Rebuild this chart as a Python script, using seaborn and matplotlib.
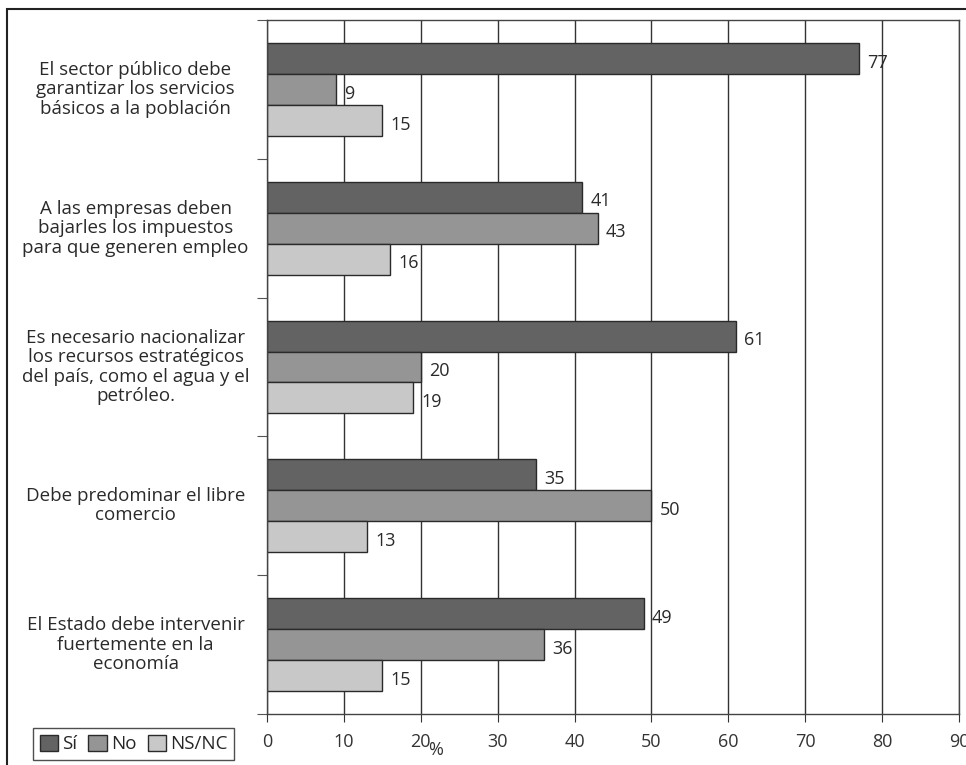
import matplotlib.pyplot as plt
import matplotlib.patches as mpatches
import seaborn as sns
import numpy as np
import pandas as pd

categorias = [
    "El sector público debe\ngarantizar los servicios\nbásicos a la población",
    "A las empresas deben\nbajarles los impuestos\npara que generen empleo",
    "Es necesario nacionalizar\nlos recursos estratégicos\ndel país, como el agua y el\npetróleo.",
    "Debe predominar el libre\ncomercio",
    "El Estado debe intervenir\nfuertemente en la\neconomía",
]
si = [77, 41, 61, 35, 49]
no = [9, 43, 20, 50, 36]
nsnc = [15, 16, 19, 13, 15]
series = ["Sí", "No", "NS/NC"]
colores = ["#636363", "#959595", "#c8c8c8"]

df = pd.DataFrame({"categoria": categorias, "Sí": si, "No": no, "NS/NC": nsnc})
df = df.melt(id_vars="categoria", var_name="serie", value_name="valor")

sns.set_style("white")
plt.rcParams["font.family"] = ["Open Sans", "DejaVu Sans"]

fig = plt.figure(figsize=(9.66, 7.65), dpi=100)
ax = fig.add_axes([267 / 966, 1 - 714 / 765, 692 / 966, 694 / 765])

sns.barplot(data=df, y="categoria", x="valor", hue="serie", order=categorias,
            hue_order=series, palette=colores, orient="h", width=0.67,
            edgecolor="#2a2a2a", linewidth=1, saturation=1, ax=ax, legend=False)

for cont in ax.containers:
    for ann in ax.bar_label(cont, padding=6, fontsize=13, color="#2a2a2a"):
        ann.xyann = (6, -3)

ax.set_xlim(0, 90)
ax.set_ylim(4.5, -0.5)
ax.set_xticks(np.arange(0, 91, 10))
ax.set_yticks(np.arange(-0.5, 5, 1))
ax.set_yticklabels([])
ax.set_xlabel("")
ax.set_ylabel("")
ax.xaxis.grid(True, color="#333333", linewidth=1)
ax.set_axisbelow(True)
ax.tick_params(axis="x", direction="out", length=6, color="#333333",
               labelsize=13, labelcolor="#333333", pad=8, bottom=True)
ax.tick_params(axis="y", direction="out", length=7, color="#555555", left=True)
for s in ax.spines.values():
    s.set_visible(True)
    s.set_color("#444444")
    s.set_linewidth(1)

for i, c in enumerate(categorias):
    ax.text(-0.19, i, c, transform=ax.get_yaxis_transform(), ha="center",
            va="center", fontsize=13.5, color="#2a2a2a", linespacing=1.1)

fig.text(436 / 966, 1 - 750 / 765, "%", ha="center", va="center",
         fontsize=13, color="#333333")

handles = [mpatches.Patch(facecolor=c, edgecolor="#2a2a2a", label=s)
           for s, c in zip(series, colores)]
leg = fig.legend(handles=handles, ncol=3, loc="lower left",
                 bbox_to_anchor=(33 / 966, 5 / 765), frameon=True, fancybox=False,
                 edgecolor="#222222", fontsize=13.5, handlelength=1.0,
                 handleheight=1.0, handletextpad=0.2, columnspacing=0.6,
                 borderpad=0.35, borderaxespad=0)
leg.get_frame().set_linewidth(1)

fig.patches.append(mpatches.Rectangle((7 / 966, -0.05), 1.2, 1 - 9 / 765 + 0.05,
                                      transform=fig.transFigure, fill=False,
                                      edgecolor="#222222", linewidth=1.5))

fig.savefig("out.png", dpi=100)
